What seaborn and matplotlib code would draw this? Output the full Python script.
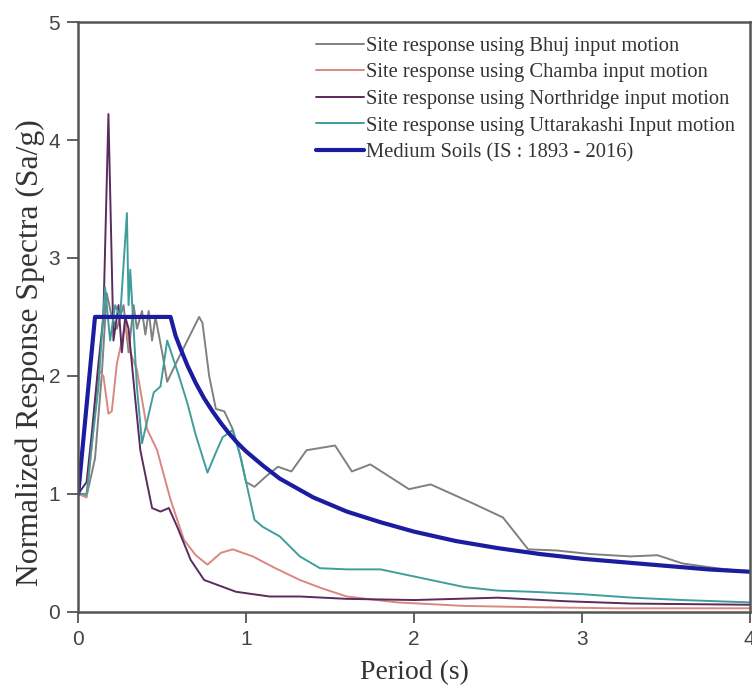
import matplotlib
matplotlib.use('Agg')
import matplotlib.pyplot as plt
import seaborn as sns

# periods (s) and normalized spectral accelerations
bhuj_t = [0, 0.05, 0.1, 0.14, 0.17, 0.2, 0.23, 0.27, 0.3, 0.33, 0.35, 0.38, 0.4, 0.42, 0.44, 0.46,
          0.5, 0.53, 0.58, 0.65, 0.72, 0.74, 0.78, 0.82, 0.87, 0.92, 0.97, 1.0, 1.05, 1.12, 1.19,
          1.27, 1.36, 1.53, 1.63, 1.74, 1.85, 1.97, 2.1, 2.35, 2.53, 2.68, 2.85, 3.05, 3.29, 3.45,
          3.6, 3.8, 4.0]
bhuj_sa = [1.0, 0.98, 1.3, 2.0, 2.7, 2.5, 2.4, 2.6, 2.2, 2.6, 2.4, 2.55, 2.35, 2.55, 2.3, 2.5,
           2.2, 1.95, 2.1, 2.3, 2.5, 2.45, 2.0, 1.72, 1.7, 1.55, 1.3, 1.1, 1.06, 1.15, 1.23,
           1.19, 1.37, 1.41, 1.19, 1.25, 1.15, 1.04, 1.08, 0.92, 0.8, 0.53, 0.52, 0.49, 0.47, 0.48,
           0.41, 0.37, 0.34]

chamba_t = [0, 0.05, 0.08, 0.12, 0.15, 0.18, 0.2, 0.23, 0.26, 0.28, 0.31, 0.35, 0.41, 0.47,
            0.55, 0.63, 0.7, 0.77, 0.85, 0.92, 0.96, 1.04, 1.16, 1.32, 1.45, 1.6, 1.9, 2.3,
            2.69, 3.2, 4.0]
chamba_sa = [1.0, 0.97, 1.4, 2.05, 2.0, 1.68, 1.7, 2.1, 2.3, 2.45, 2.2, 2.05, 1.55, 1.37,
             0.95, 0.61, 0.48, 0.4, 0.5, 0.53, 0.51, 0.47, 0.38, 0.27, 0.2, 0.13, 0.08, 0.05,
             0.04, 0.03, 0.03]

northridge_t = [0, 0.05, 0.08, 0.12, 0.15, 0.18, 0.21, 0.24, 0.26, 0.28, 0.3, 0.34, 0.37, 0.44,
                0.49, 0.54, 0.59, 0.67, 0.75, 0.94, 1.14, 1.32, 1.6, 2.0, 2.5, 2.9, 3.3, 4.0]
northridge_sa = [1.0, 1.1, 1.5, 2.1, 2.5, 4.22, 2.3, 2.6, 2.2, 2.5, 2.4, 1.8, 1.37, 0.88,
                 0.85, 0.88, 0.72, 0.44, 0.27, 0.17, 0.13, 0.13, 0.11, 0.1, 0.12, 0.09, 0.07, 0.06]

uttarakashi_t = [0, 0.05, 0.08, 0.12, 0.16, 0.19, 0.22, 0.25, 0.29, 0.3, 0.31, 0.33, 0.35, 0.38,
                 0.45, 0.49, 0.53, 0.6, 0.65, 0.7, 0.77, 0.82, 0.86, 0.92, 0.96, 1.0, 1.05, 1.1,
                 1.2, 1.32, 1.44, 1.6, 1.8, 1.9, 2.1, 2.3, 2.5, 2.7, 3.0, 3.3, 3.6, 4.0]
uttarakashi_sa = [1.0, 1.0, 1.4, 1.9, 2.75, 2.3, 2.6, 2.5, 3.38, 2.6, 2.9, 2.4, 1.9, 1.43,
                  1.86, 1.91, 2.3, 2.0, 1.77, 1.5, 1.18, 1.35, 1.48, 1.54, 1.35, 1.1, 0.78, 0.72,
                  0.64, 0.47, 0.37, 0.36, 0.36, 0.33, 0.27, 0.21, 0.18, 0.17, 0.15, 0.12, 0.1, 0.08]

code_t = [0, 0.1, 0.55, 0.58, 0.61, 0.65, 0.7, 0.75, 0.8, 0.85, 0.9, 0.95, 1.0, 1.1, 1.2, 1.3,
          1.4, 1.5, 1.6, 1.8, 2.0, 2.25, 2.5, 2.75, 3.0, 3.25, 3.5, 3.75, 4.0]
code_sa = [1.0, 2.5, 2.5, 2.34, 2.23, 2.09, 1.94, 1.81, 1.7, 1.6, 1.51, 1.43, 1.36, 1.24,
           1.13, 1.05, 0.97, 0.91, 0.85, 0.76, 0.68, 0.6, 0.54, 0.49, 0.45, 0.42, 0.39, 0.36,
           0.34]

labels = ['Site response using Bhuj input motion',
          'Site response using Chamba input motion',
          'Site response using Northridge input motion',
          'Site response using Uttarakashi Input motion',
          'Medium Soils (IS : 1893 - 2016)']

sns.set_theme(style='white')
plt.rcParams['font.family'] = ['Liberation Serif', 'DejaVu Serif']

fig = plt.figure(figsize=(7.52, 6.89), dpi=100)
ax = fig.add_axes([0.104, 0.112, 0.893, 0.856])

series = [(bhuj_t, bhuj_sa, '#808080', 1.4),
          (chamba_t, chamba_sa, '#d98880', 1.4),
          (northridge_t, northridge_sa, '#5b2a5e', 1.4),
          (uttarakashi_t, uttarakashi_sa, '#3f9e9c', 1.4),
          (code_t, code_sa, '#1c1ca0', 3.0)]
for (t, sa, col, lw), lab in zip(series, labels):
    sns.lineplot(x=t, y=sa, ax=ax, color=col, linewidth=lw, label=lab,
                 sort=False, estimator=None)

ax.set_xlim(0, 4)
ax.set_ylim(0, 5)
ax.set_xticks([0, 1, 2, 3, 4])
ax.set_yticks([0, 1, 2, 3, 4, 5])
ax.tick_params(axis='both', direction='out', length=8, width=1.3, color='#555555',
               labelsize=15, labelcolor='#444444', bottom=True, left=True, pad=5)
for lbl in ax.get_xticklabels() + ax.get_yticklabels():
    lbl.set_family(['Liberation Sans', 'DejaVu Sans'])
for sp in ax.spines.values():
    sp.set_color('#555555')
    sp.set_linewidth(1.8)

ax.set_xlabel('Period (s)', fontsize=20, color='#333333', labelpad=8)
ax.set_ylabel('Normalized Response Spectra (Sa/g)', fontsize=22.8, color='#333333')
ax.yaxis.set_label_coords(-0.05, 0.44)

leg = ax.legend(loc='upper right', frameon=False, fontsize=14.8, handlelength=2.35,
                handletextpad=0.1, labelspacing=0.35, borderaxespad=0.3)
for txt in leg.get_texts():
    txt.set_color('#333333')

fig.savefig('out.png', dpi=100)
